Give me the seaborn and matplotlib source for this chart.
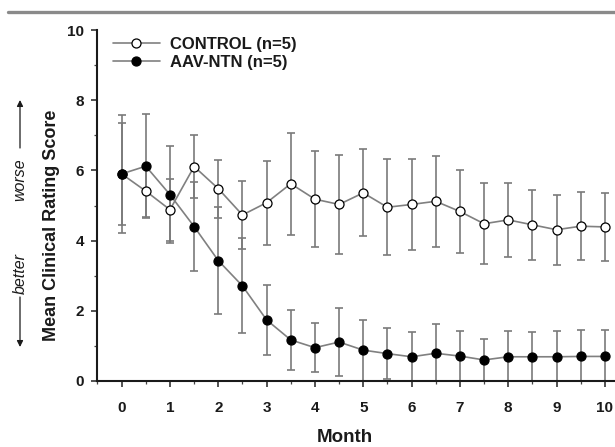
import numpy as np
import pandas as pd
import matplotlib
matplotlib.use("Agg")
import matplotlib.pyplot as plt
from matplotlib.lines import Line2D
from matplotlib.ticker import MultipleLocator
import seaborn as sns

months = [0, 0.5, 1, 1.5, 2, 2.5, 3, 3.5, 4, 4.5, 5, 5.5, 6, 6.5, 7, 7.5, 8, 8.5, 9, 9.5, 10]

control_mean = [5.90, 5.41, 4.88, 6.11, 5.48, 4.73, 5.08, 5.62, 5.18, 5.03, 5.36,
                4.95, 5.03, 5.12, 4.83, 4.48, 4.59, 4.45, 4.31, 4.41, 4.39]
control_sd = [1.46, 0.75, 0.88, 0.89, 0.83, 0.96, 1.20, 1.45, 1.37, 1.42, 1.24,
              1.37, 1.30, 1.30, 1.17, 1.16, 1.05, 1.00, 1.00, 0.97, 0.98]

aav_mean = [5.90, 6.12, 5.31, 4.40, 3.43, 2.71, 1.74, 1.17, 0.95, 1.11, 0.88,
            0.78, 0.69, 0.79, 0.71, 0.60, 0.69, 0.69, 0.69, 0.70, 0.70]
aav_sd = [1.68, 1.48, 1.38, 1.28, 1.53, 1.35, 0.99, 0.86, 0.69, 0.98, 0.87,
          0.72, 0.70, 0.83, 0.72, 0.60, 0.74, 0.70, 0.74, 0.76, 0.74]

labels = ["CONTROL (n=5)", "AAV-NTN (n=5)"]
x_ticks = list(range(0, 11))
y_ticks = [0, 2, 4, 6, 8, 10]

sns.set_style("ticks")
plt.rcParams["font.family"] = ["Liberation Sans", "DejaVu Sans"]

W, H = 615, 447
fig = plt.figure(figsize=(W / 100, H / 100), dpi=100)
ax = fig.add_axes([97 / W, 1 - 381 / H, 1 - 97 / W, (381 - 30) / H])

line_col = "#808080"
err_col = "#7a7a7a"

ax.errorbar(months, control_mean, yerr=control_sd, fmt="none", ecolor=err_col,
            elinewidth=1.2, capsize=3.2, capthick=1.2, zorder=1)
ax.errorbar(months, aav_mean, yerr=aav_sd, fmt="none", ecolor=err_col,
            elinewidth=1.2, capsize=3.2, capthick=1.2, zorder=1)

df = pd.DataFrame({"month": months, "control": control_mean, "aav": aav_mean})
sns.lineplot(data=df, x="month", y="control", ax=ax, color=line_col, lw=1.2,
             marker="o", markersize=6.5, markerfacecolor="white",
             markeredgecolor="black", markeredgewidth=0.9, label=labels[0], zorder=3)
sns.lineplot(data=df, x="month", y="aav", ax=ax, color=line_col, lw=1.2,
             marker="o", markersize=6.5, markerfacecolor="black",
             markeredgecolor="black", markeredgewidth=0.9, label=labels[1], zorder=3)

ax.set_xlim(-0.51, 10.21)
ax.set_ylim(0, 10)
ax.set_xticks(x_ticks)
ax.set_yticks(y_ticks)
ax.xaxis.set_minor_locator(MultipleLocator(0.5))
ax.yaxis.set_minor_locator(MultipleLocator(1))
ax.tick_params(axis="both", which="major", direction="out", length=4, width=1.1,
               labelsize=11, color="#222222")
ax.tick_params(axis="both", which="minor", direction="out", length=2.5, width=0.9,
               color="#444444")
ax.tick_params(axis="x", which="major", pad=10.5)
ax.tick_params(axis="y", which="major", pad=5.5)
for t in ax.get_xticklabels() + ax.get_yticklabels():
    t.set_fontweight("bold")
    t.set_color("#1a1a1a")

for side in ["top", "right"]:
    ax.spines[side].set_visible(False)
for side in ["left", "bottom"]:
    ax.spines[side].set_linewidth(1.5)
    ax.spines[side].set_color("#1a1a1a")

ax.set_xlabel("")
ax.set_ylabel("")
fig.text(345 / W, 1 - 437 / H, "Month", ha="center", va="center",
         fontsize=13.5, fontweight="bold", color="#1a1a1a")
fig.text(52 / W, 1 - 225 / H, "Mean Clinical Rating Score", rotation=90,
         ha="center", va="center", fontsize=13, fontweight="bold", color="#1a1a1a")
fig.text(20 / W, 1 - 273 / H, "better", rotation=90, ha="center", va="center",
         fontsize=11.5, style="italic", color="#1a1a1a")
fig.text(20 / W, 1 - 180 / H, "worse", rotation=90, ha="center", va="center",
         fontsize=11.5, style="italic", color="#1a1a1a")
arrow = dict(arrowstyle="-|>", color="#1a1a1a", lw=0.9, mutation_scale=9,
             shrinkA=0, shrinkB=0)
ax.annotate("", xy=(20 / W, 1 - 100 / H), xytext=(20 / W, 1 - 148 / H),
            xycoords="figure fraction", textcoords="figure fraction",
            arrowprops=arrow, annotation_clip=False)
ax.annotate("", xy=(20 / W, 1 - 347 / H), xytext=(20 / W, 1 - 297 / H),
            xycoords="figure fraction", textcoords="figure fraction",
            arrowprops=arrow, annotation_clip=False)

leg = ax.legend(loc="upper left", bbox_to_anchor=(113 / W, 1 - 37 / H),
                bbox_transform=fig.transFigure, frameon=False, borderpad=0,
                borderaxespad=0, handlelength=2.8, handletextpad=0.6,
                labelspacing=0.15, prop={"weight": "bold", "size": 12})
for t in leg.get_texts():
    t.set_color("#1a1a1a")

fig.add_artist(Line2D([8 / W, 1], [1 - 12 / H, 1 - 12 / H], transform=fig.transFigure,
                      color="#8a8a8a", lw=2.4))

fig.savefig("out.png", dpi=100)
